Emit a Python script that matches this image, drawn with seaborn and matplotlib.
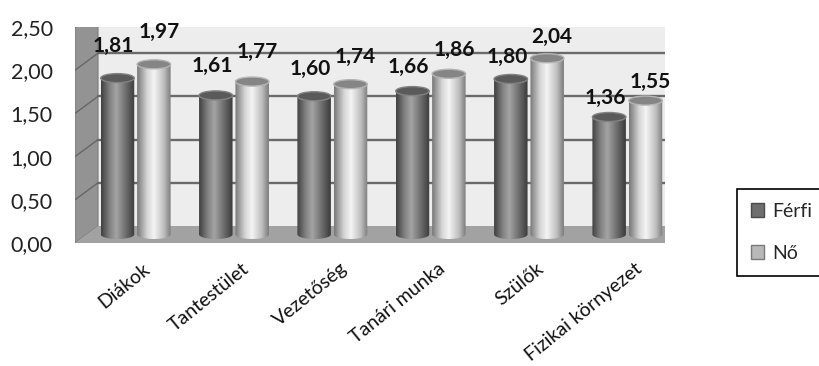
import numpy as np
import pandas as pd
import matplotlib
matplotlib.use("Agg")
import matplotlib.pyplot as plt
import seaborn as sns
from matplotlib import transforms
from matplotlib.patches import Polygon, Ellipse, PathPatch, Patch
from matplotlib.path import Path
from matplotlib.colors import LinearSegmentedColormap
from matplotlib.ticker import FuncFormatter

# ---- data -------------------------------------------------------------
categories = ["Diákok", "Tantestület", "Vezetőség", "Tanári munka", "Szülők", "Fizikai környezet"]
series = ["Férfi", "Nő"]
ferfi = [1.81, 1.61, 1.60, 1.66, 1.80, 1.36]
no = [1.97, 1.77, 1.74, 1.86, 2.04, 1.55]
y_ticks = [0.0, 0.5, 1.0, 1.5, 2.0, 2.5]

df = pd.DataFrame({
    "kategória": categories * 2,
    "nem": [series[0]] * len(ferfi) + [series[1]] * len(no),
    "érték": ferfi + no,
})

# ---- figure -----------------------------------------------------------
sns.set_theme(style="white")
plt.rcParams["font.family"] = ["Lato", "DejaVu Sans"]

W, H, DPI = 819, 366, 100
fig = plt.figure(figsize=(W / DPI, H / DPI), dpi=DPI)
fig.patch.set_facecolor("white")

# front face of the plot box (pixels from top-left)
L, R, T, B = 75, 665, 27, 243
ax = fig.add_axes([L / W, 1 - B / H, (R - L) / W, (B - T) / H])
ax.set_facecolor("none")

DEPTH = (23, 17)   # pixel offset of the back wall


def shift(dx, dy):
    return transforms.ScaledTranslation(dx / DPI, dy / DPI, fig.dpi_scale_trans)


mid = ax.transData + shift(DEPTH[0] / 2, DEPTH[1] / 2)

sns.barplot(data=df, x="kategória", y="érték", hue="nem", order=categories,
            hue_order=series, palette=["#6e6e6e", "#bdbdbd"], width=0.74,
            gap=0.08, saturation=1, legend=False, ax=ax)

ax.set_xlim(-0.5, len(categories) - 0.5)
ax.set_ylim(0, 2.5)
for s in ax.spines.values():
    s.set_visible(False)
ax.grid(False)


def disp(x, y, d):
    p = ax.transData.transform((x, y))
    return (p[0] + d * DEPTH[0], p[1] + d * DEPTH[1])


ident = transforms.IdentityTransform()
x0, x1 = -0.5, len(categories) - 0.5
ytop = y_ticks[-1]

# back wall
back_wall = Polygon([disp(x0, 0, 1), disp(x1, 0, 1), disp(x1, ytop, 1), disp(x0, ytop, 1)],
                    closed=True, transform=ident, facecolor="#ededed", edgecolor="none",
                    zorder=0.1)
ax.add_patch(back_wall)
# left wall
left_wall = Polygon([disp(x0, 0, 0), disp(x0, ytop, 0), disp(x0, ytop, 1), disp(x0, 0, 1)],
                    closed=True, transform=ident, facecolor="#939393", edgecolor="#7a7a7a",
                    lw=0.8, zorder=0.2)
ax.add_patch(left_wall)
# gridlines on the walls
for yv in y_ticks[1:]:
    a, b, c = disp(x0, yv, 0), disp(x0, yv, 1), disp(x1, yv, 1)
    ax.add_line(plt.Line2D([b[0], c[0]], [b[1], c[1]], transform=ident,
                           color="#6a6a6a", lw=1.7, zorder=0.3))
    ax.add_line(plt.Line2D([a[0], b[0]], [a[1], b[1]], transform=ident,
                           color="#666666", lw=1.0, zorder=0.3))
# floor and its front edge
floor = Polygon([disp(x0, 0, 0), disp(x1, 0, 0), disp(x1, 0, 1), disp(x0, 0, 1)],
                closed=True, transform=ident, facecolor="#a2a2a2", edgecolor="none",
                zorder=0.4)
ax.add_patch(floor)
fa, fb = disp(x0, 0, 0), disp(x1, 0, 0)
edge = Polygon([fa, fb, (fb[0], fb[1] - 4), (fa[0], fa[1] - 4)], closed=True,
               transform=ident, facecolor="#888888", edgecolor="none", zorder=0.4)
ax.add_patch(edge)
la, lb = disp(x0, 0, 0), disp(x0, ytop, 0)
ax.add_patch(Polygon([(la[0], la[1] - 4), lb, (lb[0] - 2, lb[1]), (la[0] - 2, la[1] - 4)],
                     closed=True, transform=ident, facecolor="#7d7d7d",
                     edgecolor="none", zorder=0.4))

# ---- cylinders -----------------------------------------------------------
cmaps = {
    0: LinearSegmentedColormap.from_list("ferfi", [
        (0.0, "#3f3f3f"), (0.25, "#808080"), (0.45, "#a4a4a4"),
        (0.75, "#6a6a6a"), (1.0, "#3a3a3a")]),
    1: LinearSegmentedColormap.from_list("no", [
        (0.0, "#777777"), (0.3, "#d6d6d6"), (0.5, "#f4f4f4"),
        (0.8, "#bdbdbd"), (1.0, "#7a7a7a")]),
}
cap_face = {0: "#5a5a5a", 1: "#858585"}
cap_edge = {0: "#828282", 1: "#b4b4b4"}

px_per_unit = (B - T) / 2.5
ell_h = 9 / px_per_unit
bars = list(ax.patches)[:len(categories) * 2]
t = np.linspace(np.pi, 2 * np.pi, 40)
for k, bar in enumerate(bars):
    s_idx = k // len(categories)
    i = k % len(categories)
    bx, bw, bh = bar.get_x(), bar.get_width(), bar.get_height()
    xc = bx + bw / 2
    bar.set_visible(False)

    verts = [(bx, bh), (bx, 0)]
    verts += list(zip(xc + bw / 2 * np.cos(t), ell_h / 2 * np.sin(t)))
    verts += [(bx + bw, bh), (bx, bh)]
    clip = PathPatch(Path(verts, closed=True), transform=mid, facecolor="none")
    grad = np.linspace(0, 1, 256).reshape(1, -1)
    im = ax.imshow(grad, cmap=cmaps[s_idx], extent=[bx, bx + bw, -ell_h, bh],
                   aspect="auto", transform=mid, zorder=2 + i * 0.01, interpolation="bilinear")
    im.set_clip_path(clip)
    ax.add_patch(Ellipse((xc, bh), bw, ell_h, transform=mid, facecolor=cap_face[s_idx],
                         edgecolor=cap_edge[s_idx], lw=1.0, zorder=2.005 + i * 0.01))

    label = f"{bh:.2f}".replace(".", ",")
    dx = -4 if s_idx == 0 else 5
    dy = 32 - 2.6 * i
    ax.annotate(label, xy=(xc, bh), xycoords=mid, xytext=(dx, dy),
                textcoords="offset pixels", ha="center", va="center",
                fontsize=15, fontweight="bold", color="#111111", zorder=5)

ax.set_xlim(-0.5, len(categories) - 0.5)
ax.set_ylim(0, 2.5)

# ---- axes text -------------------------------------------------------------
ax.set_yticks(y_ticks)
ax.yaxis.set_major_formatter(FuncFormatter(lambda v, _: f"{v:.2f}".replace(".", ",")))
ax.tick_params(axis="y", length=0, pad=16, labelsize=15.5, labelcolor="#222222")
ax.set_xticks(range(len(categories)))
ax.set_xticklabels(categories, rotation=39, ha="right", va="center",
                   rotation_mode="anchor", fontsize=14, color="#111111")
ax.tick_params(axis="x", length=0, pad=17)
for lab in ax.get_xticklabels():
    lab.set_transform(lab.get_transform() + shift(24, 0))
ax.set_xlabel("")
ax.set_ylabel("")

handles = [Patch(facecolor="#6e6e6e", edgecolor="#4a4a4a", label=series[0]),
           Patch(facecolor="#b8b8b8", edgecolor="#7a7a7a", label=series[1])]
leg = fig.legend(handles=handles, loc="upper left", bbox_to_anchor=(737 / W, 1 - 189 / H),
                 fontsize=14, frameon=True, fancybox=False, framealpha=1,
                 edgecolor="black", handlelength=0.7, handleheight=0.7,
                 handletextpad=0.4, borderpad=0.7, labelspacing=1.3, borderaxespad=0)
leg.get_frame().set_linewidth(1.2)

fig.savefig("out.png", dpi=DPI)
